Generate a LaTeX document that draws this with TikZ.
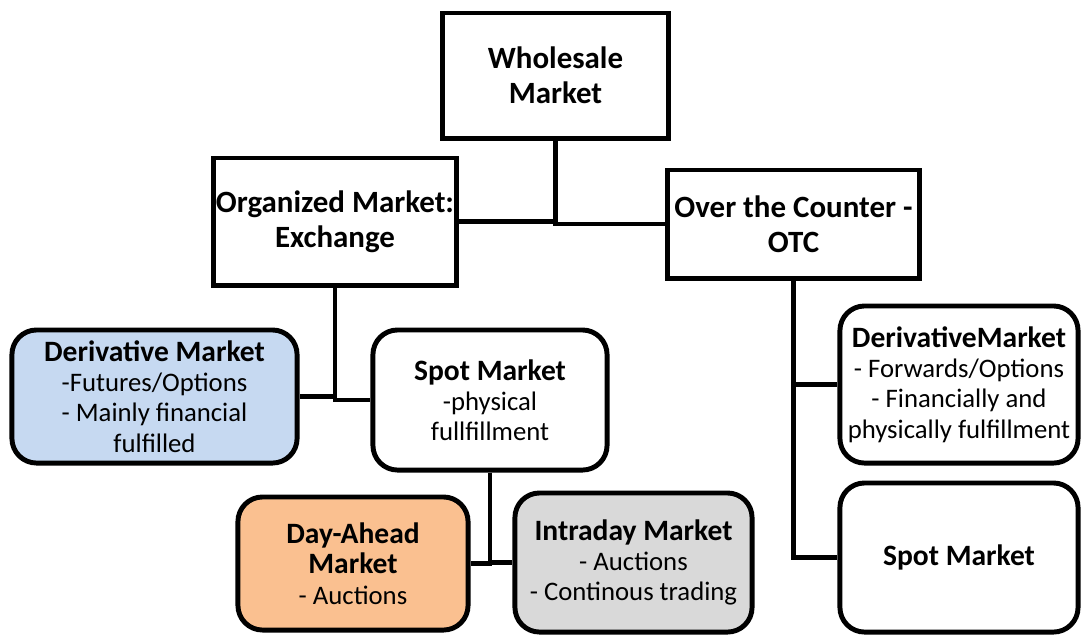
\documentclass[tikz,border=0pt]{standalone}
\usepackage{fontspec}
\setmainfont{Carlito}
\definecolor{derivblue}{HTML}{C6D9F1}
\definecolor{dayorange}{HTML}{FAC090}
\definecolor{intragray}{HTML}{D9D9D9}
\newcommand{\btitle}[1]{{\fontsize{8.4}{8.6}\selectfont\bfseries #1}}
\tikzset{
  mbox/.style={draw, line width=1.4pt, align=center, inner sep=0pt,
    font=\fontsize{8.8}{10}\selectfont\bfseries},
  rbox/.style={draw, line width=1.4pt, align=center, inner sep=0pt,
    rounded corners=7pt, font=\fontsize{7.6}{8.6}\selectfont},
  link/.style={line width=1.4pt}
}
\begin{document}
\begin{tikzpicture}[x=0.01cm,y=-0.01cm]
  \useasboundingbox (0,0) rectangle (1081,635);
  % top levels
  \node[mbox, minimum width=2.25cm, minimum height=1.25cm] (whole) at (555.5,75.5)
    {Wholesale\\Market};
  \node[mbox, minimum width=2.42cm, minimum height=1.27cm] (org) at (335,221.5)
    {Organized Market:\\Exchange};
  \node[mbox, minimum width=2.51cm, minimum height=1.08cm] (otc) at (793.5,224)
    {Over the Counter -\\OTC};
  % exchange branch
  \node[rbox, fill=derivblue, minimum width=2.85cm, minimum height=1.33cm] (derl) at (154.5,396.5)
    {\btitle{Derivative Market}\\-Futures/Options\\- Mainly financial\\fulfilled};
  \node[rbox, minimum width=2.34cm, minimum height=1.4cm] (spotm) at (490,400)
    {\btitle{Spot Market}\\-physical\\fullfillment};
  \node[rbox, fill=dayorange, minimum width=2.3cm, minimum height=1.33cm] (daya) at (353,563.5)
    {\btitle{Day-Ahead}\\\btitle{Market}\\- Auctions};
  \node[rbox, fill=intragray, minimum width=2.37cm, minimum height=1.39cm] (intra) at (633.5,562.5)
    {\btitle{Intraday Market}\\- Auctions\\- Continous trading};
  % otc branch
  \node[rbox, minimum width=2.38cm, minimum height=1.57cm] (derr) at (959,384.5)
    {\btitle{DerivativeMarket}\\- Forwards/Options\\- Financially and\\physically fulfillment};
  \node[rbox, minimum width=2.38cm, minimum height=1.49cm] (spotr) at (959,557.5)
    {\btitle{Spot Market}};
  % connectors
  \draw[link] (whole.south) |- (org.east);
  \draw[link] (whole.south) |- (otc.west);
  \draw[link] (org.south) |- (derl.east);
  \draw[link] (org.south) |- (spotm.west);
  \draw[link] (spotm.south) |- (daya.east);
  \draw[link] (spotm.south) |- (intra.west);
  \draw[link] (otc.south) |- (derr.west);
  \draw[link] (otc.south) |- (spotr.west);
\end{tikzpicture}
\end{document}
